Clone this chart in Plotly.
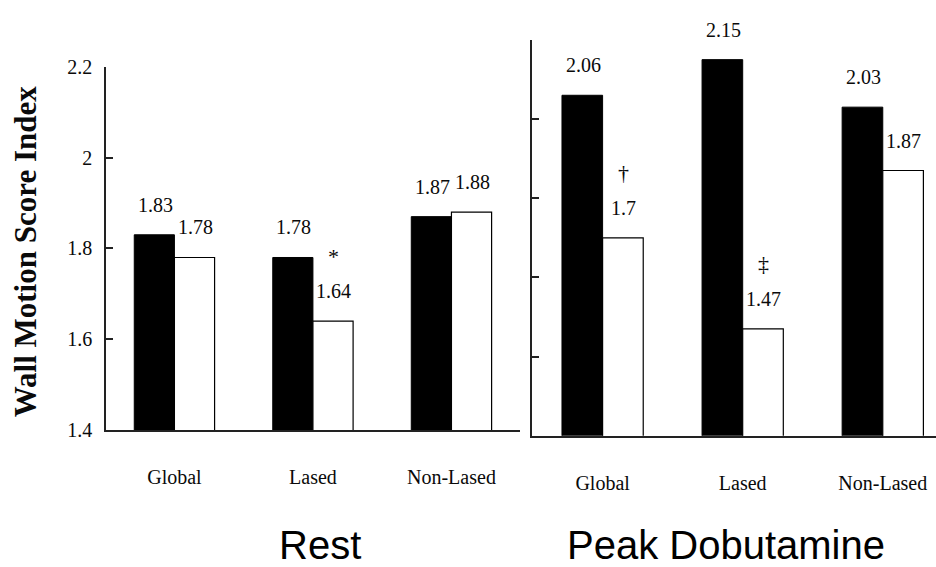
import plotly.graph_objects as go

# ---- data ----
categories = ["Global", "Lased", "Non-Lased"]
rest_black = [1.83, 1.78, 1.87]
rest_white = [1.78, 1.64, 1.88]
peak_black = [2.06, 2.15, 2.03]
peak_white = [1.70, 1.47, 1.87]
rest_white_marks = ["", "*", ""]
peak_white_marks = ["\u2020", "\u2021", ""]
rest_tickvals = [1.4, 1.6, 1.8, 2.0, 2.2]
rest_ticktext = ["1.4", "1.6", "1.8", "2", "2.2"]
peak_tickvals = [1.2, 1.4, 1.6, 1.8, 2.0, 2.2]
panel_titles = ["Rest", "Peak Dobutamine"]
y_title = "Wall Motion Score Index"

W, H = 936, 567
SERIF = "Liberation Serif, Times New Roman, serif"
SANS = "Liberation Sans, Arial, sans-serif"
INK = "#0a0a0a"
AX = "#222222"


def fx(p):
    return p / W


def fy(p):
    return 1 - p / H


fig = go.Figure()

panels = [
    ("x", "y", rest_black, rest_white, rest_white_marks),
    ("x2", "y2", peak_black, peak_white, peak_white_marks),
]
for xa, ya, blk, wht, marks in panels:
    fig.add_trace(go.Bar(x=categories, y=blk, xaxis=xa, yaxis=ya,
                         marker=dict(color="black", line=dict(color="black", width=1)),
                         showlegend=False, offsetgroup="a"))
    fig.add_trace(go.Bar(x=categories, y=wht, xaxis=xa, yaxis=ya,
                         marker=dict(color="white", line=dict(color="black", width=1.2)),
                         showlegend=False, offsetgroup="b"))

annotations = []
for xa, ya, blk, wht, marks in panels:
    for c, v in zip(categories, blk):
        annotations.append(dict(x=c, y=v, xref=xa, yref=ya, xshift=-19, yshift=30,
                                text=f"{v:g}", showarrow=False, yanchor="middle",
                                font=dict(family=SERIF, size=20, color=INK)))
    for c, v, m in zip(categories, wht, marks):
        annotations.append(dict(x=c, y=v, xref=xa, yref=ya, xshift=21, yshift=30,
                                text=f"{v:g}", showarrow=False, yanchor="middle",
                                font=dict(family=SERIF, size=20, color=INK)))
        if m:
            annotations.append(dict(x=c, y=v, xref=xa, yref=ya, xshift=21, yshift=65,
                                    text=m, showarrow=False, yanchor="middle",
                                    font=dict(family=SERIF, size=22, color=INK)))

annotations.append(dict(x=fx(25), y=fy(251), xref="paper", yref="paper",
                        text=y_title, textangle=-90, showarrow=False,
                        xanchor="center", yanchor="middle",
                        font=dict(family=SERIF, size=31, color=INK, weight="bold")))
for t, cx in zip(panel_titles, [320, 726]):
    annotations.append(dict(x=fx(cx), y=fy(556), xref="paper", yref="paper",
                            text=t, showarrow=False, xanchor="center", yanchor="middle",
                            font=dict(family=SANS, size=40, color="black")))

common_x = dict(type="category", showline=True, linecolor=AX, linewidth=2,
                ticks="", showgrid=False, zeroline=False,
                tickfont=dict(family=SERIF, size=20, color=INK), ticklabelstandoff=28)
common_y = dict(showline=True, linecolor=AX, linewidth=1.5, ticks="inside",
                ticklen=7, tickwidth=1.5, tickcolor=AX, showgrid=False, zeroline=False,
                tickfont=dict(family=SERIF, size=20, color=INK))

fig.update_layout(
    width=W, height=H, margin=dict(l=0, r=0, t=0, b=0),
    paper_bgcolor="white", plot_bgcolor="white",
    barmode="group", bargap=0.42, bargroupgap=0,
    xaxis=dict(domain=[fx(106), fx(520)], range=[-0.494, 2.495], anchor="y", **common_x),
    yaxis=dict(domain=[fy(436), fy(58)], range=[1.4, 2.2], anchor="x",
               tickvals=rest_tickvals, ticktext=rest_ticktext, ticklabelstandoff=8, **common_y),
    xaxis2=dict(domain=[fx(532), 1.0], range=[-0.504, 2.38], anchor="y2", **common_x),
    yaxis2=dict(domain=[fy(442), fy(30)], range=[1.2, 2.2], anchor="x2",
                tickvals=peak_tickvals, showticklabels=False, **common_y),
    annotations=annotations,
)

fig.write_html("out.html")
